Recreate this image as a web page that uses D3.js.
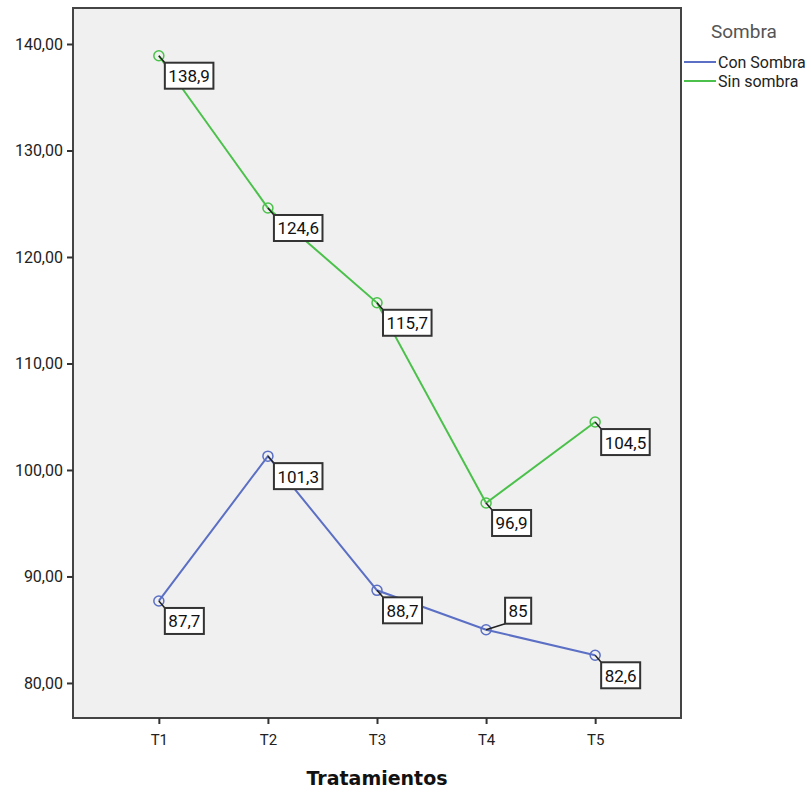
<!DOCTYPE html>
<html><head><meta charset="utf-8">
<script src="https://cdn.jsdelivr.net/npm/d3@7"></script>
<style>body{margin:0;background:#fff;}svg{display:block;}</style>
</head><body>
<script>
const categories = ["T1","T2","T3","T4","T5"];
const seriesNames = ["Con Sombra","Sin sombra"];
const conSombra = [87.7, 101.3, 88.7, 85, 82.6];
const sinSombra = [138.9, 124.6, 115.7, 96.9, 104.5];
const labelsCon = ["87,7","101,3","88,7","85","82,6"];
const labelsSin = ["138,9","124,6","115,7","96,9","104,5"];
const yTicks = [80,90,100,110,120,130,140];
const colors = ["#5b6fc4","#4bc14b"];

const W=811,H=792;
const L=73,T=8,R=681,B=718;
const svg=d3.select("body").append("svg").attr("width",W).attr("height",H);
const x=d3.scalePoint().domain(categories).range([L,R]).padding(0.787);
const y=d3.scaleLinear().domain([76.71,143.38]).range([B,T]);

svg.append("rect").attr("x",L).attr("y",T).attr("width",R-L).attr("height",B-T)
  .attr("fill","#f0f0f0").attr("stroke","#444").attr("stroke-width",2);

const ya=svg.append("g").attr("transform",`translate(${L},0)`)
  .call(d3.axisLeft(y).tickValues(yTicks).tickSize(6).tickSizeOuter(0)
    .tickFormat(d=>d3.format(".2f")(d).replace(".",",")));
ya.select(".domain").remove();
ya.selectAll(".tick line").attr("stroke","#333").attr("stroke-width",2);
ya.selectAll(".tick text").attr("font-family","Roboto, Arial, sans-serif").attr("font-size",16).attr("fill","#222").attr("x",-10);

const xa=svg.append("g").attr("transform",`translate(0,${B})`)
  .call(d3.axisBottom(x).tickSize(6).tickSizeOuter(0));
xa.select(".domain").remove();
xa.selectAll(".tick line").attr("stroke","#333").attr("stroke-width",2);
xa.selectAll(".tick text").attr("font-family","Roboto, Arial, sans-serif").attr("font-size",15).attr("fill","#222").attr("y",16);

svg.append("text").attr("x",(L+R)/2).attr("y",785).attr("text-anchor","middle")
  .attr("font-family","'DejaVu Sans', sans-serif").attr("font-weight","bold").attr("font-size",19)
  .attr("fill","#111").text("Tratamientos");

const series=[{vals:conSombra,labs:labelsCon,c:colors[0]},{vals:sinSombra,labs:labelsSin,c:colors[1]}];
const line=d3.line().x((d,i)=>x(categories[i])).y(d=>y(d));
series.forEach(s=>{
  svg.append("path").attr("d",line(s.vals)).attr("fill","none").attr("stroke",s.c).attr("stroke-width",2);
  svg.selectAll(null).data(s.vals).enter().append("circle")
    .attr("cx",(d,i)=>x(categories[i])).attr("cy",d=>y(d)).attr("r",5)
    .attr("fill","none").attr("stroke",s.c).attr("stroke-width",1.5);
});

function label(px,py,txt,dx,dy){
  const g=svg.append("g");
  const t=g.append("text").attr("font-family","Roboto, Arial, sans-serif").attr("font-size",17)
    .attr("fill","#111").text(txt);
  const w=t.node().getComputedTextLength()+7, h=26;
  const bx=px+dx, by=py+dy;
  g.insert("line","text").attr("x1",px).attr("y1",py)
    .attr("x2",dx>=0?bx:bx+w).attr("y2",dy>=0?by:by+h).attr("stroke","#222").attr("stroke-width",1.5);
  g.insert("rect","text").attr("x",bx).attr("y",by).attr("width",w).attr("height",h)
    .attr("fill","#fff").attr("stroke","#333").attr("stroke-width",2);
  t.attr("x",bx+3.5).attr("y",by+19.5);
}
series.forEach((s,si)=>{
  s.vals.forEach((v,i)=>{
    const px=x(categories[i]), py=y(v);
    if(si===0 && i===3) label(px,py,s.labs[i],19,-32);
    else label(px,py,s.labs[i],6,7);
  });
});

svg.append("text").attr("x",711).attr("y",38).attr("font-family","Roboto, Arial, sans-serif")
  .attr("font-size",19).attr("fill","#555").text("Sombra");
seriesNames.forEach((n,i)=>{
  const yy=62+i*19;
  svg.append("line").attr("x1",684).attr("x2",716).attr("y1",yy).attr("y2",yy).attr("stroke",colors[i]).attr("stroke-width",2);
  svg.append("text").attr("x",718).attr("y",yy+5.5).attr("font-family","Roboto, Arial, sans-serif")
    .attr("font-size",16).attr("fill","#222").text(n);
});
</script>
</body></html>
